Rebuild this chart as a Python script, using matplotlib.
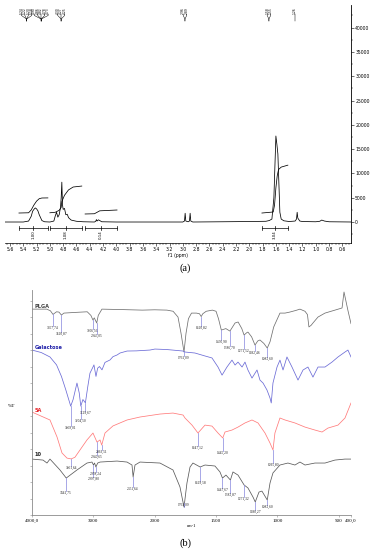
import numpy as np
import matplotlib
matplotlib.use("Agg")
import matplotlib.pyplot as plt
import matplotlib.transforms as mtransforms

# ---------------- (a) 1H NMR data ----------------
nmr_ppm = [5.68, 5.40, 5.32, 5.28, 5.26, 5.24, 5.22, 5.20, 5.18, 5.16, 5.12, 5.08, 5.00,
           4.94, 4.92, 4.90, 4.88, 4.86, 4.84, 4.83, 4.82, 4.81, 4.80, 4.78, 4.76, 4.74,
           4.73, 4.72, 4.68, 4.60, 4.50, 4.33, 4.31, 4.30, 4.29, 4.27, 4.25, 4.22, 4.00,
           3.20, 3.00, 2.975, 2.965, 2.955, 2.92, 2.90, 2.89, 2.88, 2.85, 2.40, 2.00,
           1.75, 1.70, 1.66, 1.63, 1.60, 1.585, 1.57, 1.555, 1.54, 1.52, 1.48, 1.40,
           1.31, 1.29, 1.28, 1.27, 1.24, 1.20, 1.00, 0.94, 0.91, 0.87, 0.80, 0.45]
nmr_int = [0, 0, 200, 1200, 2200, 2600, 2900, 2700, 2300, 1500, 300, 50, 0,
           200, 1200, 2000, 1000, 1500, 3000, 5000, 8200, 3500, 2600, 2800, 1500, 1600,
           1300, 900, 400, 150, 50, 0, 150, 500, 200, 450, 300, 50, 0,
           0, 0, 200, 1800, 200, 50, 200, 1800, 200, 0, 50, 100,
           150, 300, 600, 5000, 17700, 16000, 14000, 8000, 2000, 600, 250, 100,
           200, 600, 2000, 800, 200, 100, 50, 150, 400, 200, 50, 0]

# integral curves (ppm, integral level in intensity units)
int1_ppm = [5.465, 5.32, 5.28, 5.24, 5.20, 5.16, 5.12, 5.03]
int1_val = [1850, 1900, 2500, 3500, 4300, 4800, 4940, 4960]
int2_ppm = [5.00, 4.92, 4.86, 4.83, 4.82, 4.78, 4.72, 4.65, 4.52]
int2_val = [1900, 2000, 2400, 3000, 4200, 5500, 6600, 7200, 7400]
int3_ppm = [4.47, 4.33, 4.25, 3.99]
int3_val = [1650, 1700, 2300, 2470]
int4_ppm = [1.81, 1.64, 1.62, 1.60, 1.58, 1.56, 1.52, 1.42]
int4_val = [1850, 2060, 3500, 7000, 9500, 10800, 11300, 11700]

# integration ranges and values
int_ranges = [(5.465, 5.03), (5.00, 4.52), (4.47, 3.99), (1.81, 1.42)]
int_labels = ["1.00", "1.08", "0.14", "3.04"]

# peak picking labels
peak_groups = [["5.24", "5.22", "5.20", "5.18"],
               ["4.90", "4.86", "4.82", "4.78", "4.73"],
               ["4.30", "4.27", "4.25"],
               ["2.96", "2.89"],
               ["1.58", "1.55"],
               ["1.26"]]
nmr_xticks = [5.6, 5.4, 5.2, 5.0, 4.8, 4.6, 4.4, 4.2, 4.0, 3.8, 3.6, 3.4, 3.2, 3.0,
              2.8, 2.6, 2.4, 2.2, 2.0, 1.8, 1.6, 1.4, 1.2, 1.0, 0.8, 0.6]
nmr_yticks = [0, 5000, 10000, 15000, 20000, 25000, 30000, 35000, 40000]

# ---------------- (b) FTIR data ----------------
plga_wn = [4000, 3760, 3700, 3657.74, 3600, 3560, 3520.87, 3480, 3300, 3100, 3040, 3006.56,
           2985, 2945.05, 2920, 2860, 2500, 2200, 2000, 1900, 1850, 1810, 1785, 1761.09,
           1745, 1725, 1700, 1660, 1635, 1620.82, 1608, 1580, 1530, 1500, 1480, 1456.90,
           1420, 1386.70, 1345, 1320, 1290, 1271.52, 1250, 1240, 1210, 1182.46, 1160, 1142,
           1110, 1082.60, 1060, 1030, 979, 938, 900, 850, 816, 775, 755, 743, 725, 710, 669,
           612, 531, 473, 457, 425, 400]
plga_t = [124.8, 124.8, 123.8, 121.6, 123.2, 123.0, 121.2, 122.4, 122.8, 123.2, 121.0, 118.2,
          119.5, 116.4, 121.0, 124.8, 124.5, 124.2, 124.4, 124.2, 123.5, 120.0, 110.0, 98.8,
          110.0, 119.0, 122.4, 122.4, 122.0, 120.3, 122.0, 123.5, 124.2, 123.5, 119.0, 112.1,
          113.0, 111.5, 116.4, 117.0, 113.0, 109.1, 110.5, 110.9, 108.0, 103.0, 105.5, 106.1,
          104.0, 101.2, 105.0, 114.0, 122.4, 122.4, 123.0, 124.0, 124.8, 123.5, 121.5, 114.0,
          115.0, 116.4, 120.0, 122.4, 124.2, 125.5, 135.2, 124.0, 116.0]

gal_wn = [4000, 3850, 3707, 3600, 3520, 3450, 3369.01, 3330, 3267, 3230, 3204.50, 3170,
          3129.67, 3090, 3055, 3006, 2990, 2957, 2930, 2900, 2859, 2810, 2728, 2680, 2614,
          2565, 2450, 2300, 2077, 1998, 1900, 1769, 1753, 1672, 1590, 1533, 1484, 1451,
          1411, 1370, 1345, 1321, 1288, 1264, 1240, 1207, 1166, 1142, 1117, 1085, 1060,
          1050, 1036, 1003, 979, 954, 922, 881, 832, 791, 751, 710, 669, 612, 555, 506,
          449, 425, 400]
gal_t = [100.0, 98.5, 95.8, 91.0, 84.0, 76.0, 66.0, 70.0, 80.0, 74.0, 66.0, 70.0,
         68.0, 78.0, 86.0, 89.7, 91.0, 84.0, 89.0, 90.0, 88.0, 92.5, 94.0, 96.0, 97.0,
         98.2, 99.4, 99.5, 100.0, 100.6, 100.3, 99.4, 98.8, 98.2, 96.4, 95.2, 89.7, 84.8,
         89.7, 93.9, 90.9, 92.7, 89.7, 92.7, 87.9, 83.0, 87.9, 81.8, 80.0, 75.8, 70.9,
         67.9, 80.0, 89.7, 93.9, 87.9, 95.8, 89.7, 81.8, 87.9, 89.7, 83.6, 89.7, 89.7,
         92.7, 95.8, 98.8, 100.0, 95.8]

s5a_wn = [4000, 3707, 3592, 3511, 3430, 3361.64, 3300, 3218, 3104, 3006, 2940.65, 2891,
          2863.51, 2810, 2680, 2451, 2240, 1957, 1851, 1769, 1753, 1696, 1647.12, 1590,
          1533, 1484, 1445.20, 1427, 1370, 1321, 1264, 1207, 1158, 1101, 1060, 1035.80,
          1020, 979, 938, 857, 775, 694, 636, 588, 506, 449, 400]
s5a_t = [62.4, 57.6, 47.3, 37.6, 34.5, 34.0, 35.0, 39.4, 45.5, 49.7, 44.2, 45.5,
         42.4, 49.7, 54.0, 57.6, 59.4, 61.2, 61.8, 60.6, 58.8, 54.5, 49.7, 54.5,
         53.9, 49.7, 46.7, 50.3, 51.5, 53.3, 55.8, 57.6, 55.8, 49.7, 43.6, 39.4,
         49.7, 58.8, 57.6, 55.8, 53.3, 51.5, 50.3, 52.7, 54.5, 58.8, 67.9]

s10_wn = [4000, 3820, 3756, 3707, 3544, 3441.75, 3267, 3104, 3022, 2997.80, 2980, 2958.24,
          2930, 2891, 2614, 2451, 2370, 2351.64, 2321, 2240, 1957, 1851, 1794, 1761.09,
          1737, 1712, 1688, 1629.58, 1590, 1509, 1468, 1447.67, 1419, 1382.87, 1362, 1321,
          1271.32, 1240, 1199, 1180.27, 1150, 1126, 1082.60, 1060, 1036, 979, 914, 857,
          816, 775, 694, 612, 531, 449, 400]
s10_t = [33.9, 33.3, 31.5, 33.9, 27.3, 22.4, 27.3, 31.5, 32.1, 30.3, 31.5, 29.1,
         31.5, 32.1, 32.7, 32.1, 30.3, 23.0, 30.3, 32.1, 31.5, 27.3, 17.0, 4.8,
         19.4, 29.1, 31.5, 29.1, 30.3, 29.7, 26.1, 22.4, 24.2, 21.2, 26.1, 24.2,
         18.2, 16.4, 10.9, 7.9, 13.9, 14.5, 9.1, 19.4, 25.5, 30.3, 31.5, 30.3,
         32.1, 30.3, 31.5, 31.5, 33.3, 33.9, 33.9]

plga_peaks = ["3657,74", "3520,87", "3006,56", "2945,05", "1761,09", "1620,82",
              "1456,90", "1386,70", "1271,52", "1182,46", "1082,60"]
gal_peaks = ["3369,01", "3204,50", "3129,67"]
s5a_peaks = ["3361,64", "2940,65", "2863,51", "1647,12", "1445,20", "1035,80"]
s10_peaks = ["3441,75", "2997,80", "2958,24", "2351,64", "1761,09", "1629,58",
             "1447,67", "1382,87", "1271,32", "1180,27", "1082,60"]

ir_xticks = [4000, 3000, 2000, 1500, 1000, 500, 400]
ir_xticklabels = ["4000,0", "3000", "2000", "1500", "1000", "500", "400,0"]

# ---------------- layout constants ----------------
W, H = 370, 550
fig = plt.figure(figsize=(W / 100, H / 100), dpi=100)

def px_axes(x0, y0, x1, y1):
    return fig.add_axes([x0 / W, 1 - y1 / H, (x1 - x0) / W, (y1 - y0) / H])

# ======== (a) NMR ========
ax = px_axes(5, 5, 351, 243)
ax.plot(nmr_ppm, nmr_int, color="black", lw=0.55)
for xs, ys in [(int1_ppm, int1_val), (int2_ppm, int2_val), (int3_ppm, int3_val), (int4_ppm, int4_val)]:
    ax.plot(xs, ys, color="black", lw=0.55)
ax.set_xlim(5.675, 0.47)
ax.set_ylim(-4320, 44660)

br_y = -1235
for (a, b), lab in zip(int_ranges, int_labels):
    ax.plot([a, b], [br_y, br_y], color="black", lw=0.5)
    for xx in (a, b):
        ax.plot([xx, xx], [br_y - 350, br_y + 350], color="black", lw=0.5)
    c = (a + b) / 2
    ax.plot([c, c], [br_y - 350, br_y + 350], color="black", lw=0.5)
    ax.text(c, br_y - 550, lab, rotation=90, ha="center", va="top", fontsize=2.8,
            family="DejaVu Sans")

# peak labels at the top
group_centers = [5.35, 5.13, 4.83, 2.968, 1.705, 1.314]
spacing = 0.052
tr = mtransforms.blended_transform_factory(ax.transData, ax.transAxes)
for labs, cen in zip(peak_groups, group_centers):
    n = len(labs)
    xs = [cen + (n - 1) / 2 * spacing - i * spacing for i in range(n)]
    for lab, xx in zip(labs, xs):
        ax.text(xx, 0.962, lab, rotation=90, ha="center", va="bottom", fontsize=2.2,
                transform=tr, clip_on=False)
        ax.plot([xx, xx, cen, cen], [0.962, 0.956, 0.941, 0.933], color="black", lw=0.35,
                transform=tr, clip_on=False)

for s in ["top", "left"]:
    ax.spines[s].set_visible(False)
ax.spines["right"].set_linewidth(0.6)
ax.spines["bottom"].set_linewidth(0.5)
ax.yaxis.tick_right()
ax.set_yticks(nmr_yticks)
ax.set_yticklabels([str(v) for v in nmr_yticks])
ax.set_yticks(np.arange(-2500, 44000, 2500), minor=True)
ax.tick_params(axis="y", which="major", labelsize=3.3, length=2, width=0.4, pad=1)
ax.tick_params(axis="y", which="minor", length=1.2, width=0.3)
ax.set_xticks(nmr_xticks)
ax.set_xticklabels([f"{v:.1f}" for v in nmr_xticks])
ax.set_xticks(np.arange(0.5, 5.7, 0.05), minor=True)
ax.tick_params(axis="x", which="major", labelsize=3.3, length=2, width=0.4, pad=1)
ax.tick_params(axis="x", which="minor", length=1.2, width=0.3)
ax.set_xlabel("f1 (ppm)", fontsize=3.3, labelpad=0.5)

fig.text(0.5, 1 - 268 / H, "(a)", ha="center", va="center", fontsize=7.5,
         family="Liberation Serif")

# ======== (b) FTIR ========
def fwd(w):
    w = np.asarray(w, dtype=float)
    return np.where(w > 2000, 2000 + (w - 2000) / 2, w)

def inv(u):
    u = np.asarray(u, dtype=float)
    return np.where(u > 2000, 2000 + 2 * (u - 2000), u)

bx = px_axes(32, 290, 351, 515)
bx.set_xscale("function", functions=(fwd, inv))
bx.set_xlim(4000, 400)
bx.set_ylim(0, 136.4)

traces = [
    (plga_wn, plga_t, "#707070", "PLGA", "#404040", 126.5, plga_peaks,
     [113.3, 109.9, 111.5, 108.5, 95.2, 113.3, 104.8, 101.2, 99.4, 98.2, 94.5]),
    (gal_wn, gal_t, "#6b6bd6", "Galactose", "#1f1fa8", 101.5, gal_peaks,
     [52.7, 57.0, 61.8]),
    (s5a_wn, s5a_t, "#ff7b7b", "5A", "#e8262b", 63.5, s5a_peaks,
     [28.5, 35.2, 38.2, 40.6, 37.6, 30.3]),
    (s10_wn, s10_t, "#5a5a5a", "10", "#202020", 36.5, s10_peaks,
     [13.3, 21.8, 24.8, 15.8, 6.0, 19.4, 15.2, 12.1, 9.7, 1.8, 4.8]),
]
ann_color = "#8f8fe0"
for wn, tt, col, name, ncol, ny, peaks, laby in traces:
    bx.plot(wn, tt, color=col, lw=0.55)
    bx.text(3955, ny, name, color=ncol, fontsize=3.6, fontweight="bold",
            ha="left", va="center", family="DejaVu Sans")
    for lab, ly in zip(peaks, laby):
        w = float(lab.replace(",", "."))
        yt = float(np.interp(-w, -np.asarray(wn, float), tt))
        bx.plot([w, w], [yt, ly + 1.2], color=ann_color, lw=0.55)
        bx.text(w, ly, lab, fontsize=2.6, ha="center", va="center", color="#222222",
                family="Liberation Serif")

for s in ["top", "right"]:
    bx.spines[s].set_visible(False)
for s in ["left", "bottom"]:
    bx.spines[s].set_color("#8a8a8a")
    bx.spines[s].set_linewidth(0.6)
bx.set_yticks(np.arange(0, 137, 10))
bx.set_yticklabels([])
bx.tick_params(axis="y", length=1.5, width=0.4, color="#8a8a8a")
bx.set_xticks(ir_xticks)
bx.set_xticklabels(ir_xticklabels)
bx.xaxis.set_minor_locator(matplotlib.ticker.NullLocator())
bx.tick_params(axis="x", length=1.5, width=0.4, color="#8a8a8a", labelsize=3.6, pad=1.5)
for t in bx.get_xticklabels():
    t.set_family("Liberation Serif")
bx.set_xlabel("cm-1", fontsize=3.3, family="Liberation Serif", labelpad=0.5)
fig.text(12 / W, 1 - 406 / H, "%T", ha="center", va="center", fontsize=3.8,
         family="Liberation Serif")

fig.text(0.5, 1 - 543 / H, "(b)", ha="center", va="center", fontsize=7.5,
         family="Liberation Serif")

fig.savefig("out.png", dpi=100, facecolor="white")
